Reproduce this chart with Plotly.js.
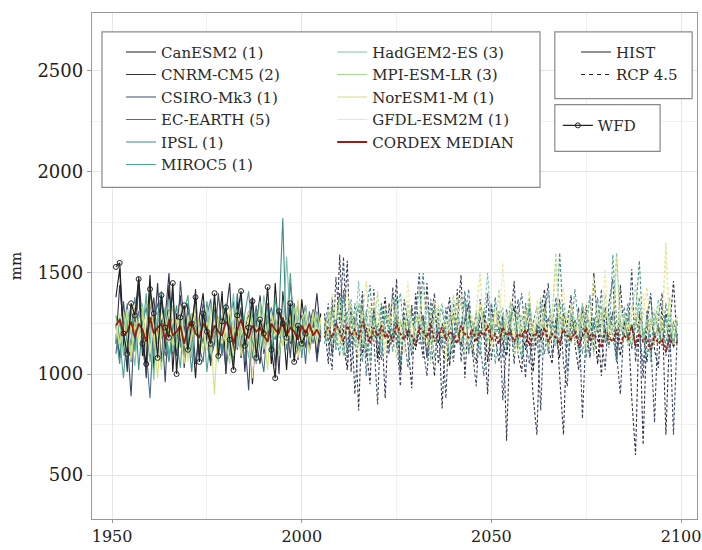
<!DOCTYPE html>
<html>
<head>
<meta charset="utf-8">
<script src="https://cdn.plot.ly/plotly-3.0.1.min.js"></script>
<style>html,body{margin:0;padding:0;background:#fff;}#chart{width:702px;height:550px;}</style>
</head>
<body>
<div id="chart"></div>
<script>
// ---------------- data ----------------
const histStart = 1951;
const rcpStart = 2006;
const wfdStart = 1951;

const modelNames = ["CanESM2 (1)", "CNRM-CM5 (2)", "CSIRO-Mk3 (1)", "EC-EARTH (5)", "IPSL (1)", "MIROC5 (1)",
  "HadGEM2-ES (3)", "MPI-ESM-LR (3)", "NorESM1-M (1)", "GFDL-ESM2M (1)"];

const histCanESM2 = [1380,1520,1150,1040,1300,1210,1460,1090,1180,1490,1020,1250,1380,1120,1440,1010,1300,1170,1090,1350,1230,980,1280,1400,1150,1060,1320,1190,1410,1000,1270,1120,1360,1080,1220,1310,950,1240,1380,1130,1290,1050,1450,1180,1260,1020,1330,1160,1090,1370,1210,1140,1260,1080,1300];
const histCNRM = [1150,1440,1230,1010,1340,1120,1480,1260,980,1370,1190,1450,1060,1280,1500,1100,1230,1390,1030,1260,1180,1420,1090,1310,1200,1040,1360,1250,1120,1300,1450,1080,1190,1330,1010,1270,1380,1160,1050,1240,1350,1120,1280,1000,1410,1230,1150,1300,1070,1260,1340,1110,1220,1400,1190];
const histCSIRO = [1240,1080,1360,1170,890,1290,1420,1130,1010,1230,1380,1150,1270,960,1320,1200,1090,1460,1240,1110,1300,1050,1190,1350,1270,1080,1150,1400,1210,1020,1290,1360,1120,1250,1170,920,1310,1230,1390,1100,1200,1280,1040,1330,1190,1260,1080,1350,1170,1290,1130,1240,1320,1060,1210];
const histECEARTH = [1100,1280,1210,1350,1060,1190,1310,1240,1120,880,1270,1350,1200,1090,1230,1400,1150,1260,1080,1320,1190,1240,1130,1060,1290,1370,1180,1220,1090,1310,1250,1150,1400,1200,1060,1280,1190,1340,1120,1010,1260,1330,1210,1100,1280,1190,1450,1230,1120,1260,1050,1310,1200,1280,1160];
const histIPSL = [1200,1050,1310,1260,1140,1380,1020,1250,1330,1170,1090,1280,1410,1180,1060,1220,1340,1130,1270,1190,1010,1300,1240,1150,1360,1090,1230,1280,1120,1310,1190,1060,1270,1390,1150,1220,1080,1300,1250,1130,1340,1210,1170,1290,1770,1120,1260,1190,1360,1080,1280,1230,1150,1310,1200];
const histMIROC5 = [1290,1180,980,1230,1340,1110,1250,1190,1400,1060,1280,1150,1220,1330,1080,1250,1170,1030,1300,1390,1120,1240,1180,1270,1010,1200,1310,1140,1260,1350,1090,1230,1180,1120,1300,1410,1160,1050,1240,1300,1190,1090,1380,1230,1140,1270,1500,1180,1250,1100,1320,1210,1280,1150,1240];
const histHadGEM = [1170,1260,1090,1320,1200,1040,1280,1350,1150,1230,970,1310,1180,1260,1370,1110,1200,1290,1160,1240,1080,1330,1190,1270,1120,1350,1210,1060,1290,1180,1230,1400,1130,1260,1190,1080,1320,1210,1150,1390,1270,1140,1230,1300,1180,1580,1250,1120,1290,1210,1340,1160,1280,1230,1190];
const histMPI = [1230,1140,1310,1200,1080,1260,1190,1330,1100,1240,1290,1170,1020,1280,1210,1340,1130,1250,1190,1080,1300,1220,1150,1270,1330,1100,1240,1180,1290,1150,1050,1260,1320,1190,1230,1140,1280,1200,1360,1120,1250,1180,1300,1090,1230,1270,1160,1330,1210,1120,1280,1250,1170,1300,1220];
const histNorESM = [1260,1150,1200,1320,1070,1240,1180,1290,1130,1370,1210,980,1250,1190,1310,1140,1270,1220,1050,1290,1170,1340,1230,1110,1260,1190,900,1280,1220,1150,1330,1200,1260,1090,1240,1310,1180,1130,1270,1220,1020,1300,1190,1260,1140,1230,1290,1200,1370,1160,1240,1100,1310,1190,1260];
const histGFDL = [1190,1300,1240,1110,1270,1350,1160,1220,1290,1100,1250,1180,1310,1230,1140,1280,1200,1340,1170,1060,1250,1300,1190,1230,1120,1280,1350,1200,1150,1260,1220,1090,1300,1240,1170,1280,980,1230,1200,1310,1140,1260,1220,1180,1290,1150,1240,1200,1080,1270,1310,1190,1230,1150,1280];
const histMedian = [1240,1270,1190,1210,1260,1180,1250,1220,1160,1280,1200,1230,1250,1170,1270,1190,1210,1240,1150,1230,1260,1200,1180,1250,1220,1170,1240,1210,1190,1260,1230,1150,1220,1270,1200,1180,1240,1210,1230,1190,1160,1250,1220,1200,1280,1190,1230,1210,1170,1240,1200,1250,1190,1220,1180];

const rcpCanESM2 = [1180,1300,1090,1250,1400,1150,1020,1280,1210,1350,1100,1230,1170,1320,1060,1240,1380,1130,1200,1290,1010,1260,1180,1340,1120,1230,1290,1080,1210,1360,1150,1250,1190,1040,1300,1220,1140,1270,1350,1100,1230,1180,1310,1060,1240,1200,1280,1150,1090,1260,1330,1170,1220,1120,1290,1010,1240,1190,1350,1140,1260,1210,1080,1300,1230,1160,1270,1120,1200,1340,1180,1250,1050,1290,1220,1150,1310,1200,1090,1260,1180,1240,1130,1290,1210,1060,1270,1190,1230,1140,1300,1210,1160,1250];
const rcpCNRM = [1250,1050,1380,1120,1590,1200,1560,1010,1280,820,1330,1150,950,1420,1090,1260,880,1350,1180,1470,1020,1300,1150,930,1400,1210,1080,1450,1170,990,1320,830,1260,1380,1100,1250,1490,980,1300,1140,1050,1370,1220,900,1340,1180,1060,1290,670,1240,1460,1100,1010,1350,1200,890,700,1300,1420,1130,1050,1280,960,700,1250,1390,1150,1020,1320,1200,1080,1500,1230,990,1330,1140,1270,1060,1440,1190,1280,880,600,1310,650,1250,1400,1120,1030,1350,700,1220,1460,1150];
const rcpCSIRO = [1300,1150,1020,1480,1250,1580,1100,1340,900,1200,1410,1080,1290,1170,850,1350,1220,1100,1430,1180,940,1370,1250,1090,1300,1500,1130,990,1280,1400,1050,1210,880,1330,1160,1420,1060,1250,1350,1110,940,1290,1180,1400,1070,1230,1310,870,1150,1280,1050,1370,1200,980,1340,1120,1250,820,1300,1450,1090,1210,1370,1050,940,1280,1160,1330,780,1240,1390,1110,1290,1180,1020,1350,1470,1100,900,1260,1180,1520,1060,1230,980,1310,1170,760,1280,1400,1090,1240,700,1200];
const rcpECEARTH = [1220,1350,1100,1270,1180,1420,1050,1300,1230,1140,1380,990,1250,1310,1160,1070,1290,1220,1400,1130,1260,1190,1030,1340,1210,1150,1290,1080,1370,1200,1250,1120,1330,1180,1060,1280,1230,1410,1100,1200,1300,1150,990,1270,1350,1190,1240,1080,1320,1210,1130,1290,1400,1160,1050,1250,1330,1190,1100,1280,1220,1380,1140,1260,1010,1300,1210,1170,1350,1240,1090,1280,1200,1420,1150,1230,1310,1080,1260,1190,1350,1120,1270,1210,1040,1300,1380,1160,1240,1200,1290,1110,1260,1180];
const rcpIPSL = [1280,1160,1330,1210,1090,1400,1250,1130,1350,1200,1060,1290,1440,1180,1250,1100,1320,1230,1170,1380,1050,1260,1200,1310,1140,1270,1500,1190,1080,1330,1240,1160,1290,1060,1350,1210,1130,1280,1420,1170,1240,1090,1300,1230,1150,1380,1200,1260,1120,1290,1340,1180,1070,1250,1310,1200,1140,1360,1230,1100,1280,1190,1600,1250,1130,1290,1210,1170,1340,1080,1260,1220,1380,1150,1240,1300,1190,1060,1270,1330,1200,1140,1290,1560,1180,1250,1100,1300,1220,1160,1350,1240,1130,1280];
const rcpMIROC5 = [1150,1260,1320,1180,1230,1090,1300,1370,1140,1250,1200,1310,1060,1280,1220,1350,1170,1240,1110,1300,1400,1190,1260,1130,1290,1210,1160,1340,1230,1080,1270,1320,1190,1250,1140,1300,1210,1370,1100,1260,1190,1330,1240,1160,1280,1050,1220,1300,1180,1350,1250,1130,1290,1210,1380,1170,1240,1090,1310,1260,1200,1140,1290,1350,1220,1180,1420,1250,1100,1300,1230,1170,1280,1340,1200,1130,1590,1260,1190,1300,1140,1250,1220,1380,1170,1290,1060,1240,1310,1200,1150,1280,1220,1190];
const rcpHadGEM = [1240,1190,1300,1120,1380,1250,1170,1290,1210,1460,1140,1260,1330,1180,1230,1090,1310,1270,1200,1350,1150,1240,1290,1110,1260,1420,1190,1230,1300,1160,1270,1350,1210,1120,1290,1240,1380,1170,1260,1200,1310,1130,1280,1500,1220,1190,1270,1330,1160,1240,1210,1300,1090,1260,1350,1200,1230,1170,1290,1410,1250,1140,1300,1220,1180,1340,1260,1100,1280,1230,1390,1190,1250,1310,1160,1270,1210,1600,1240,1180,1300,1150,1260,1330,1210,1090,1280,1240,1370,1190,1250,1300,1170,1230];
const rcpMPI = [1200,1310,1150,1260,1380,1090,1240,1290,1170,1350,1230,1120,1280,1200,1410,1150,1260,1330,1190,1080,1270,1220,1360,1140,1250,1300,1180,1230,1050,1290,1340,1210,1160,1270,1390,1200,1240,1110,1310,1260,1180,1350,1230,1140,1290,1200,1420,1170,1250,1310,1090,1260,1200,1330,1240,1160,1290,1380,1210,1130,1270,1600,1190,1250,1310,1150,1240,1220,1350,1180,1270,1090,1300,1230,1400,1170,1260,1200,1330,1240,1140,1290,1450,1210,1180,1270,1230,1320,1160,1250,1200,1380,1140,1260];
const rcpNorESM = [1260,1180,1400,1230,1140,1300,1250,1350,1190,1080,1280,1460,1220,1170,1310,1240,1130,1290,1370,1200,1260,1100,1330,1250,1180,1290,1420,1210,1150,1270,1340,1230,1060,1300,1250,1390,1170,1240,1280,1120,1310,1500,1200,1260,1150,1330,1240,1190,1280,1360,1220,1100,1290,1250,1410,1180,1270,1230,1320,1150,1260,1540,1200,1290,1170,1350,1240,1210,1300,1130,1270,1480,1230,1190,1310,1250,1160,1580,1220,1290,1200,1340,1260,1180,1300,1430,1210,1150,1280,1250,1650,1190,1270,1230];
const rcpGFDL = [1190,1290,1230,1350,1160,1270,1420,1200,1250,1130,1310,1240,1180,1380,1220,1270,1090,1300,1250,1340,1190,1230,1460,1170,1260,1310,1200,1150,1290,1360,1230,1180,1270,1120,1320,1250,1400,1200,1160,1290,1240,1350,1190,1270,1110,1300,1230,1550,1210,1260,1180,1330,1250,1200,1290,1140,1370,1230,1260,1190,1310,1170,1250,1430,1220,1280,1150,1300,1240,1360,1200,1180,1290,1250,1520,1160,1270,1230,1340,1200,1260,1150,1310,1240,1400,1190,1280,1220,1330,1170,1600,1250,1200,1290];
const rcpMedian = [1200,1230,1180,1250,1210,1160,1240,1190,1220,1170,1260,1200,1150,1230,1190,1240,1180,1210,1160,1250,1200,1170,1220,1190,1140,1230,1210,1180,1250,1160,1200,1230,1170,1210,1190,1150,1240,1200,1180,1220,1160,1210,1190,1240,1170,1200,1150,1230,1190,1210,1160,1200,1180,1220,1140,1190,1210,1170,1230,1160,1200,1180,1150,1220,1190,1170,1210,1140,1190,1230,1160,1200,1170,1130,1210,1180,1160,1220,1150,1190,1170,1240,1140,1200,1160,1180,1120,1190,1150,1170,1110,1180,1140,1160];

const wfd = [1530,1550,1200,1100,1350,1290,1470,1150,1050,1420,1300,1080,1390,1230,1180,1450,1000,1280,1340,1120,1250,1380,1060,1300,1210,1150,1400,1090,1260,1330,1170,1020,1290,1410,1140,1230,1360,1080,1270,1200,1430,1120,980,1310,1250,1180,1350,1060,1240,1150,1200];

const xTicks = [1950, 2000, 2050, 2100];
const yTicks = [500, 1000, 1500, 2000, 2500];

// ---------------- styling ----------------
const histSeries = [histCanESM2, histCNRM, histCSIRO, histECEARTH, histIPSL, histMIROC5, histHadGEM, histMPI, histNorESM, histGFDL];
const rcpSeries = [rcpCanESM2, rcpCNRM, rcpCSIRO, rcpECEARTH, rcpIPSL, rcpMIROC5, rcpHadGEM, rcpMPI, rcpNorESM, rcpGFDL];
const colors = ["#1c1c1c", "#34344f", "#3d4b6a", "#4c6f8c", "#3e8c88", "#4fa48d", "#78c6aa", "#a9d98e", "#d8e07e", "#efe8a0"];
const medianColor = "#952018";
const SERIF = "DejaVu Serif";

function yearsFor(start, arr) { return arr.map((_, i) => start + i); }

const traces = [];
histSeries.forEach((h, i) => {
  traces.push({
    type: "scatter", mode: "lines", name: modelNames[i],
    x: yearsFor(histStart, h), y: h,
    line: {color: colors[i], width: 1.1},
    legend: i < 6 ? "legend" : "legend4", legendrank: i + 1, showlegend: true
  });
});
rcpSeries.forEach((r, i) => {
  traces.push({
    type: "scatter", mode: "lines", name: modelNames[i],
    x: yearsFor(rcpStart, r), y: r,
    line: {color: colors[i], width: 1.1, dash: "3px,2px"},
    showlegend: false
  });
});
traces.push({
  type: "scatter", mode: "lines", name: "CORDEX MEDIAN",
  x: yearsFor(histStart, histMedian), y: histMedian,
  line: {color: medianColor, width: 1.8},
  legend: "legend4", legendrank: 20, showlegend: true
});
traces.push({
  type: "scatter", mode: "lines", name: "CORDEX MEDIAN",
  x: yearsFor(rcpStart, rcpMedian), y: rcpMedian,
  line: {color: medianColor, width: 1.8, dash: "3px,2px"},
  showlegend: false
});
traces.push({
  type: "scatter", mode: "lines+markers", name: "WFD",
  x: yearsFor(wfdStart, wfd), y: wfd,
  line: {color: "#222", width: 1.2},
  marker: {symbol: "circle-open", size: 5, color: "#222", line: {width: 1}},
  legend: "legend3", showlegend: true
});
traces.push({type: "scatter", mode: "lines", name: "HIST", x: [null], y: [null],
  line: {color: "#222", width: 1.2}, legend: "legend2", legendrank: 1, showlegend: true});
traces.push({type: "scatter", mode: "lines", name: "RCP 4.5", x: [null], y: [null],
  line: {color: "#222", width: 1.2, dash: "4px,4px"}, legend: "legend2", legendrank: 2, showlegend: true});

const legFont = {family: SERIF, size: 15, color: "#2a2a2a"};
const legBase = {font: legFont, bgcolor: "rgba(0,0,0,0)", borderwidth: 0, xanchor: "left", yanchor: "top",
  tracegroupgap: 0, itemclick: false, itemdoubleclick: false, traceorder: "normal"};

const boxLine = {color: "#8a8a8a", width: 1.2};
const layout = {
  width: 702, height: 550,
  margin: {l: 92, r: 5, t: 13, b: 31},
  paper_bgcolor: "#fff", plot_bgcolor: "#fff",
  font: {family: SERIF, color: "#222"},
  showlegend: true,
  xaxis: {
    range: [1944.7, 2104.2], tickvals: xTicks, ticktext: xTicks.map(String),
    ticks: "outside", ticklen: 3, tickcolor: "#999", ticklabeloverflow: "allow",
    showgrid: true, gridcolor: "#e6e6e6", gridwidth: 1,
    minor: {tickvals: [1975, 2025, 2075], showgrid: true, gridcolor: "#f1f1f1", ticks: ""},
    showline: true, mirror: true, linecolor: "#999", linewidth: 1.2, zeroline: false,
    tickfont: {family: SERIF, size: 16, color: "#222"}
  },
  yaxis: {
    range: [283, 2786], tickvals: yTicks, ticktext: yTicks.map(String),
    ticks: "outside", ticklen: 4, tickcolor: "#999",
    showgrid: true, gridcolor: "#e6e6e6", gridwidth: 1,
    minor: {tickvals: [750, 1250, 1750, 2250], showgrid: true, gridcolor: "#f1f1f1", ticks: ""},
    showline: true, mirror: true, linecolor: "#999", linewidth: 1.2, zeroline: false,
    tickfont: {family: SERIF, size: 18, color: "#222"},
    title: {text: "mm", font: {family: SERIF, size: 15, color: "#222"}, standoff: 12}
  },
  legend: Object.assign({}, legBase, {x: 0.048, y: 0.955}),
  legend4: Object.assign({}, legBase, {x: 0.397, y: 0.955}),
  legend2: Object.assign({}, legBase, {x: 0.800, y: 0.955}),
  legend3: Object.assign({}, legBase, {x: 0.770, y: 0.81}),
  shapes: [
    {type: "rect", xref: "paper", yref: "paper", x0: 0.0165, x1: 0.7405, y0: 0.6555, y1: 0.9626,
      line: boxLine, fillcolor: "#fff", layer: "above"},
    {type: "rect", xref: "paper", yref: "paper", x0: 0.765, x1: 0.992, y0: 0.8307, y1: 0.9626,
      line: boxLine, fillcolor: "#fff", layer: "above"},
    {type: "rect", xref: "paper", yref: "paper", x0: 0.765, x1: 0.939, y0: 0.7264, y1: 0.8189,
      line: boxLine, fillcolor: "#fff", layer: "above"}
  ]
};

Plotly.newPlot("chart", traces, layout, {staticPlot: true, displayModeBar: false});
</script>
</body>
</html>
